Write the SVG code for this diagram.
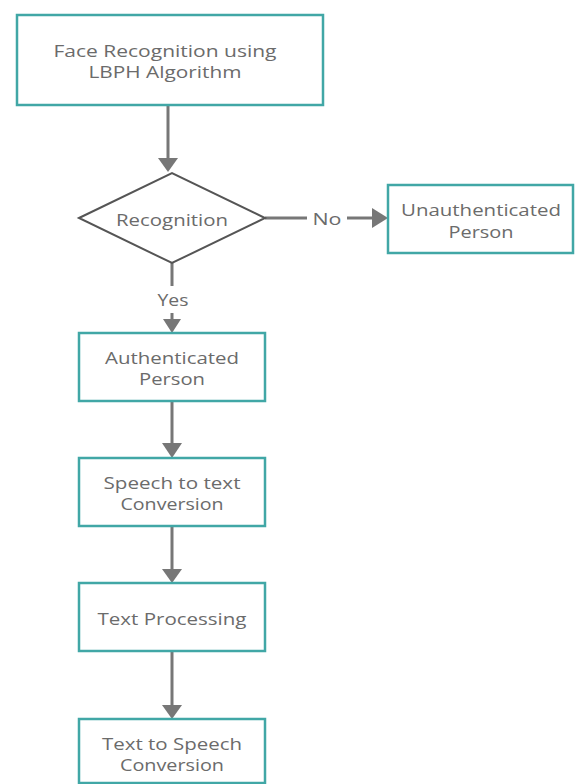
<svg xmlns="http://www.w3.org/2000/svg" width="576" height="784" viewBox="0 0 576 784">
<defs>
<style>
.box{fill:#fff;stroke:#41a7a6;stroke-width:2.5}
.dia{fill:#fff;stroke:#555;stroke-width:2}
.t{font-family:"Open Sans",sans-serif;font-size:17px;fill:#6b6b6b;text-anchor:middle;dominant-baseline:central}
.c{stroke:#777;stroke-width:3;fill:none}
.h{fill:#777}
</style>
</defs>
<rect width="576" height="784" fill="#fff"/>
<g id="connectors">
<line class="c" x1="168" y1="105" x2="168" y2="160"/>
<polygon class="h" points="158,158 178,158 168,172"/>
<line class="c" x1="265" y1="218" x2="307" y2="218"/>
<line class="c" x1="347" y1="218" x2="374" y2="218"/>
<polygon class="h" points="372,208 372,228 388,218"/>
<text class="t" x="327" y="218" textLength="29" lengthAdjust="spacingAndGlyphs">No</text>
<line class="c" x1="172" y1="263" x2="172" y2="286"/>
<line class="c" x1="172" y1="313" x2="172" y2="322"/>
<polygon class="h" points="163,319 181,319 172,333"/>
<text class="t" x="173" y="299" textLength="31" lengthAdjust="spacingAndGlyphs">Yes</text>
<line class="c" x1="172" y1="401" x2="172" y2="446"/>
<polygon class="h" points="162,443 182,443 172,458"/>
<line class="c" x1="172" y1="526" x2="172" y2="572"/>
<polygon class="h" points="162,569 182,569 172,583"/>
<line class="c" x1="172" y1="651" x2="172" y2="708"/>
<polygon class="h" points="162,705 182,705 172,719"/>
</g>
<g id="face">
<rect class="box" x="17" y="15" width="306" height="90"/>
<text class="t" x="165" y="50" textLength="223" lengthAdjust="spacingAndGlyphs">Face Recognition using</text>
<text class="t" x="165" y="71" textLength="153" lengthAdjust="spacingAndGlyphs">LBPH Algorithm</text>
</g>
<g id="recognition">
<polygon class="dia" points="79,218 172,173 265,218 172,263"/>
<text class="t" x="172" y="219" textLength="112" lengthAdjust="spacingAndGlyphs">Recognition</text>
</g>
<g id="unauth">
<rect class="box" x="388" y="185" width="185" height="68"/>
<text class="t" x="481" y="209" textLength="160" lengthAdjust="spacingAndGlyphs">Unauthenticated</text>
<text class="t" x="481" y="231" textLength="65" lengthAdjust="spacingAndGlyphs">Person</text>
</g>
<g id="auth">
<rect class="box" x="79" y="333" width="186" height="68"/>
<text class="t" x="172" y="357" textLength="134" lengthAdjust="spacingAndGlyphs">Authenticated</text>
<text class="t" x="172" y="378" textLength="66" lengthAdjust="spacingAndGlyphs">Person</text>
</g>
<g id="stt">
<rect class="box" x="79" y="458" width="186" height="68"/>
<text class="t" x="172" y="482" textLength="137" lengthAdjust="spacingAndGlyphs">Speech to text</text>
<text class="t" x="172" y="503" textLength="103" lengthAdjust="spacingAndGlyphs">Conversion</text>
</g>
<g id="tp">
<rect class="box" x="79" y="583" width="186" height="68"/>
<text class="t" x="172" y="618" textLength="149" lengthAdjust="spacingAndGlyphs">Text Processing</text>
</g>
<g id="tts">
<rect class="box" x="79" y="719" width="186" height="64"/>
<text class="t" x="172" y="743" textLength="140" lengthAdjust="spacingAndGlyphs">Text to Speech</text>
<text class="t" x="172" y="764" textLength="104" lengthAdjust="spacingAndGlyphs">Conversion</text>
</g>
</svg>
